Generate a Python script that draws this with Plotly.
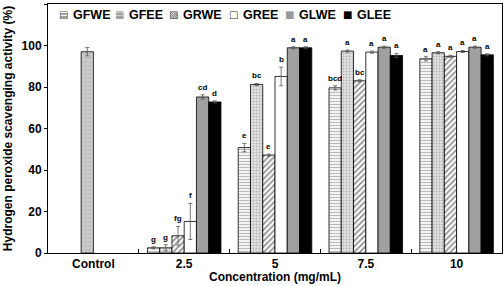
import plotly.graph_objects as go

categories = ["Control", "2.5", "5", "7.5", "10"]
series_names = ["GFWE", "GFEE", "GRWE", "GREE", "GLWE", "GLEE"]

gfwe = [None, 2.5, 50.8, 79.6, 93.6]
gfee = [None, 2.5, 81.2, 97.3, 96.5]
grwe = [None, 8.3, 47.2, 83.0, 94.8]
gree = [None, 15.2, 85.1, 96.8, 97.1]
glwe = [None, 75.2, 98.9, 99.2, 99.2]
glee = [None, 72.8, 98.9, 95.2, 95.5]

gfwe_err = [0, 0.5, 2.0, 1.0, 1.0]
gfee_err = [0, 1.5, 0.5, 0.5, 0.5]
grwe_err = [0, 4.5, 0.5, 0.5, 0.5]
gree_err = [0, 8.7, 4.5, 0.5, 0.5]
glwe_err = [0, 1.0, 0.5, 0.5, 0.5]
glee_err = [0, 0.5, 0.5, 1.0, 0.5]

gfwe_lbl = ["", "g", "e", "bcd", "a"]
gfee_lbl = ["", "g", "bc", "a", "a"]
grwe_lbl = ["", "fg", "e", "bc", "a"]
gree_lbl = ["", "f", "b", "a", "a"]
glwe_lbl = ["", "cd", "a", "a", "a"]
glee_lbl = ["", "d", "a", "a", "a"]

control_value = [97.0]
control_err = [2.0]

x_title = "Concentration (mg/mL)"
y_title = "Hydrogen peroxide scavenging activity (%)"

values = [gfwe, gfee, grwe, gree, glwe, glee]
errors = [gfwe_err, gfee_err, grwe_err, gree_err, glwe_err, glee_err]
labels = [gfwe_lbl, gfee_lbl, grwe_lbl, gree_lbl, glwe_lbl, glee_lbl]

styles = [
    dict(color="white", pattern=dict(shape="-", fgcolor="#777777", bgcolor="white", size=3, solidity=0.45)),
    dict(color="#dddddd", pattern=dict(shape=".", fgcolor="#888888", bgcolor="#e4e4e4", size=3, solidity=0.4)),
    dict(color="white", pattern=dict(shape="/", fgcolor="#222222", bgcolor="white", size=4, solidity=0.45)),
    dict(color="white"),
    dict(color="#a0a0a0"),
    dict(color="black"),
]
legend_glyphs = ["▤", "▦", "▨", "□", "■", "■"]
legend_glyph_colors = ["#555555", "#888888", "#444444", "#333333", "#9a9a9a", "black"]

FONT = "Arial, Liberation Sans, sans-serif"
group_w = 0.81
bw = group_w / 6
fig = go.Figure()

for i, name in enumerate(series_names):
    off = -group_w / 2 + i * bw
    m = dict(styles[i])
    m["line"] = dict(color="black", width=0.8)
    fig.add_trace(go.Bar(
        x=categories, y=values[i], name=name, width=bw, offset=off,
        marker=m, showlegend=False,
        error_y=dict(type="data", array=errors[i], color="#555555", thickness=0.8, width=2),
    ))
    for j, cat in enumerate(categories):
        if values[i][j] is None or not labels[i][j]:
            continue
        fig.add_annotation(
            x=j + off + bw / 2, y=values[i][j] + errors[i][j], text="<b>" + labels[i][j] + "</b>",
            showarrow=False, yanchor="bottom", yshift=1,
            font=dict(family=FONT, size=8, color="black"),
        )

# control (reference) bar, drawn in the third slot of the Control group
off_c = -group_w / 2 + 2 * bw
fig.add_trace(go.Bar(
    x=[categories[0]], y=control_value, name="Control", showlegend=False,
    width=bw, offset=off_c,
    marker=dict(color="#cccccc", line=dict(color="black", width=0.8),
                pattern=dict(shape="+", fgcolor="#888888", bgcolor="#d0d0d0", size=4, solidity=0.3)),
    error_y=dict(type="data", array=control_err, color="#555555", thickness=0.8, width=2),
))

# custom compact legend (text kept as real text)
plot_left, plot_w = 48, 454
legend_text_px = [71, 127, 181, 241, 297, 355]
legend_y = 0.956
for i, name in enumerate(series_names):
    xt = (legend_text_px[i] - plot_left) / plot_w
    fig.add_annotation(
        xref="paper", yref="paper", x=xt, y=legend_y, xanchor="right", yanchor="middle",
        text=legend_glyphs[i], showarrow=False, xshift=-1,
        font=dict(family="DejaVu Sans", size=10, color=legend_glyph_colors[i]),
    )
    fig.add_annotation(
        xref="paper", yref="paper", x=xt, y=legend_y, xanchor="left", yanchor="middle",
        text="<b>" + name + "</b>", showarrow=False,
        font=dict(family=FONT, size=12.5, color="black"),
    )

# x axis title
fig.add_annotation(
    xref="paper", yref="paper", x=0.5, y=-0.098, xanchor="center", yanchor="middle",
    text="<b>" + x_title + "</b>", showarrow=False,
    font=dict(family=FONT, size=12, color="black"),
)

fig.update_layout(
    width=504, height=286,
    margin=dict(l=48, r=2, t=4, b=33),
    barmode="overlay",
    plot_bgcolor="white", paper_bgcolor="white",
    font=dict(family=FONT, color="black"),
    showlegend=False,
)
fig.update_xaxes(
    type="category", tickson="boundaries", ticks="inside", ticklen=4, tickcolor="black",
    showline=True, linecolor="black", linewidth=1, mirror=True, automargin=False,
    tickfont=dict(family=FONT, size=12, weight="bold"),
    range=[-0.5, 4.5],
)
fig.update_yaxes(
    range=[0, 120], dtick=20, ticks="outside", ticklen=3, tickcolor="black",
    showline=True, linecolor="black", linewidth=1, mirror=True, showgrid=False, zeroline=False,
    automargin=False,
    tickfont=dict(family=FONT, size=12, weight="bold"),
    title=dict(text="<b>" + y_title + "</b>", font=dict(family=FONT, size=12), standoff=6),
)

fig.write_html("out.html")
